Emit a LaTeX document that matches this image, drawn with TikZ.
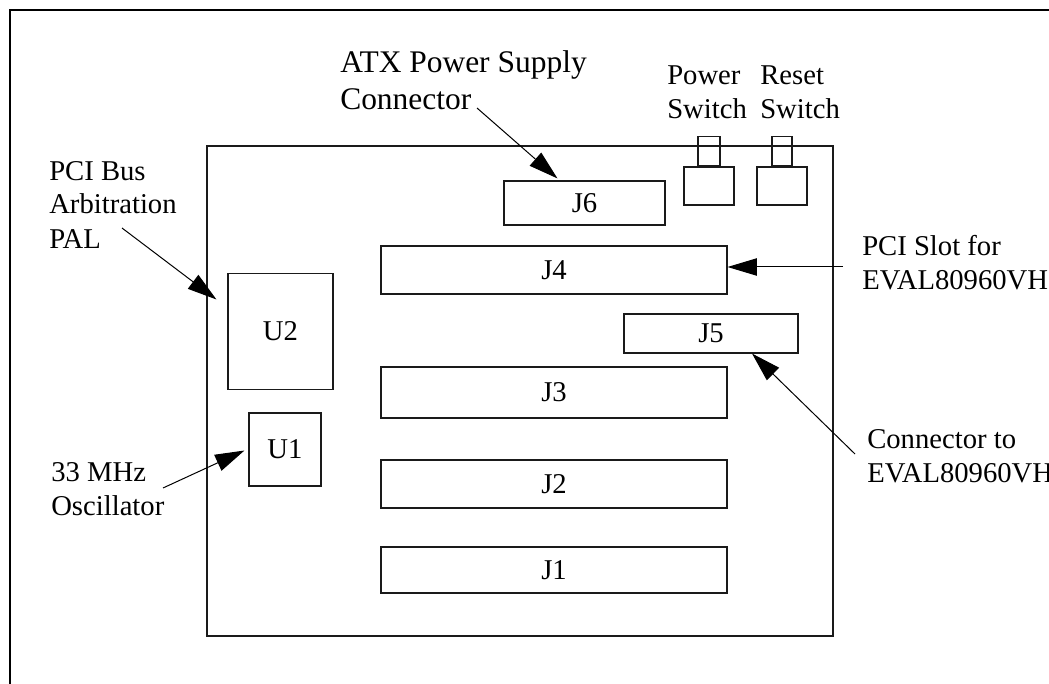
\documentclass[tikz,border=0pt]{standalone}
\usepackage{fontspec}
\setmainfont{Liberation Serif}
\usetikzlibrary{arrows.meta,calc,positioning}

\begin{document}
\begin{tikzpicture}[x=0.75pt, y=-0.75pt, >={Triangle[length=22pt,width=13pt]}, font={\fontsize{21.5}{25.5}\selectfont},
  part/.style={draw=partline, line width=0.8pt, inner sep=0pt},
  lbl/.style={anchor=base west, align=left, inner sep=0pt},
  pointer/.style={->, line width=0.75pt}]
\definecolor{partline}{HTML}{1A1A1A}
\useasboundingbox (0,0) rectangle (1049,684);
\draw[line width=1.6pt] (10,684) -- (10,10) -- (1049,10);
\draw[partline, line width=0.8pt] (207,146) rectangle (833,636);
\node[part, minimum width=120.75pt, minimum height=33pt] (J6) at (584.5,203) {J6};
\node[part, minimum width=37.5pt, minimum height=28.5pt] (pwr) at (709,186) {};
\node[part, minimum width=16.5pt, minimum height=21.75pt, anchor=south] (pwrcap) at (pwr.north) {};
\node[part, minimum width=37.5pt, minimum height=28.5pt] (rst) at (782,186) {};
\node[part, minimum width=15pt, minimum height=21.75pt, anchor=south] (rstcap) at (rst.north) {};
\node[part, minimum width=259.5pt, minimum height=36pt] (J4) at (554,270) {J4};
\node[part, minimum width=130.5pt, minimum height=29.25pt] (J5) at (711,333.5) {J5};
\node[part, minimum width=259.5pt, minimum height=38.25pt] (J3) at (554,392.5) {J3};
\node[part, minimum width=259.5pt, minimum height=36pt] (J2) at (554,484) {J2};
\node[part, minimum width=259.5pt, minimum height=34.5pt] (J1) at (554,570) {J1};
\node[part, minimum width=78.75pt, minimum height=87pt] (U2) at (280.5,331.5) {U2};
\node[part, minimum width=54pt, minimum height=54.75pt] (U1) at (285,449.5) {U1};
\node[lbl, font={\fontsize{23.6}{28}\selectfont}] (atx) at (340,110) {ATX Power Supply\\Connector};
\node[lbl] (pwrtxt) at (667,119) {Power\\Switch};
\node[lbl] (rsttxt) at (760,119) {Reset\\Switch};
\node[lbl] (pal) at (49,248) {PCI Bus\\Arbitration\\PAL};
\node[lbl] (osc) at (51,515) {33 MHz\\Oscillator};
\node[lbl] (slot) at (862,290) {PCI Slot for\\EVAL80960VH};
\node[lbl] (conn) at (867,482) {Connector to\\EVAL80960VH};
\coordinate (atxT) at (477,108);
\coordinate (palT) at (122,228);
\coordinate (oscT) at (163,488);
\coordinate (slotT) at (843,267);
\coordinate (connT) at (855,454);
\draw[pointer] (atxT) -- ($(J6.north)+(-27,-2)$);
\draw[pointer] (palT) -- ($(U2.west)+(-11,-32)$);
\draw[pointer] (oscT) -- ($(U1.west)+(-4,1)$);
\draw[pointer] (slotT) -- ($(J4.east)+(0,-3)$);
\draw[pointer] (connT) -- ($(J5.south)+(41,0)$);
\end{tikzpicture}
\end{document}
